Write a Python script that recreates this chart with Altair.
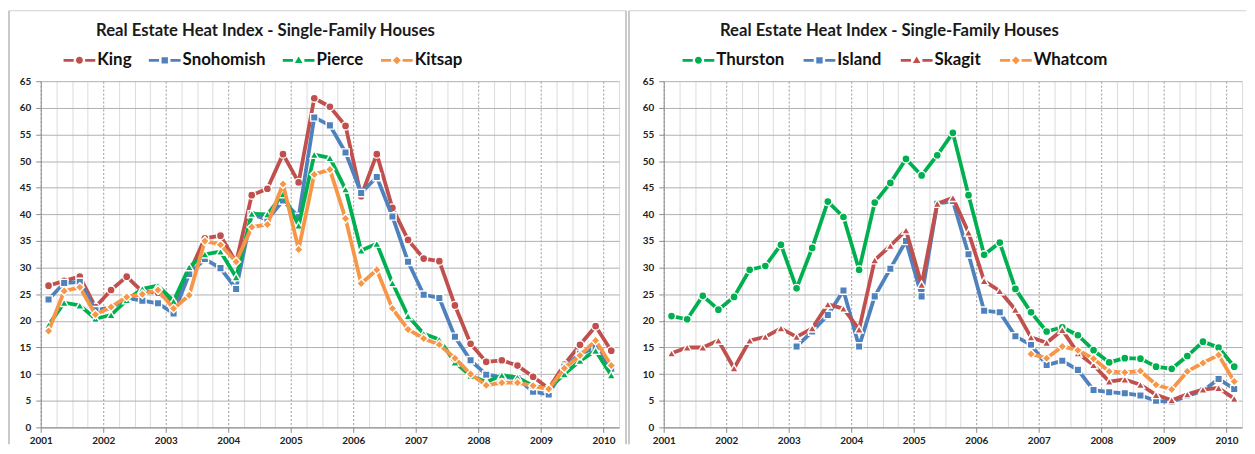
import altair as alt
import pandas as pd

# ---------------- data ----------------
quarters = [f"{y}Q{q}" for y in range(2001, 2011) for q in range(1, 5)][:37]
y_ticks = list(range(0, 70, 5))

left_names = ["King", "Snohomish", "Pierce", "Kitsap"]
right_names = ["Thurston", "Island", "Skagit", "Whatcom"]

king = [26.6, 27.5, 28.3, 22.6, 25.8, 28.3, 25.5, 25.3, 23.2, 29.0, 35.5, 36.0, 31.0,
        43.6, 44.8, 51.3, 46.0, 61.8, 60.2, 56.6, 43.4, 51.3, 41.2, 35.2, 31.7, 31.2,
        22.9, 15.7, 12.3, 12.6, 11.6, 9.5, 7.3, 11.8, 15.5, 19.0, 14.4]
snohomish = [24.0, 27.1, 27.3, 22.0, 22.5, 24.3, 23.8, 23.3, 21.4, 28.8, 31.6, 29.9, 26.0,
             40.0, 39.0, 42.6, 39.5, 58.2, 56.7, 51.6, 44.0, 47.0, 39.6, 31.1, 24.9, 24.3,
             17.0, 12.6, 9.9, 9.5, 9.2, 6.7, 6.2, 11.4, 13.8, 15.0, 11.0]
pierce = [19.2, 23.4, 22.9, 20.4, 21.1, 23.9, 26.0, 26.6, 23.7, 30.1, 32.5, 33.0, 28.2,
          40.1, 40.0, 43.8, 37.9, 51.2, 50.6, 44.7, 33.2, 34.5, 27.1, 20.9, 17.6, 16.5,
          12.2, 9.7, 8.5, 9.8, 9.4, 7.8, 7.3, 10.0, 12.5, 14.4, 9.8]
kitsap = [18.1, 25.6, 26.3, 21.2, 22.6, 24.5, 25.0, 25.8, 22.3, 24.8, 35.0, 34.3, 31.1,
          37.6, 38.1, 45.7, 33.4, 47.5, 48.4, 39.2, 27.0, 29.6, 22.3, 18.4, 16.7, 15.5,
          13.0, 10.0, 7.9, 8.4, 8.4, 7.8, 7.2, 11.1, 13.5, 16.3, 11.6]

thurston = [20.9, 20.3, 24.7, 22.1, 24.5, 29.6, 30.3, 34.3, 26.1, 33.7, 42.4, 39.5, 29.6,
            42.2, 45.9, 50.4, 47.3, 51.1, 55.3, 43.6, 32.4, 34.7, 26.0, 21.6, 18.0, 18.8,
            17.3, 14.5, 12.2, 13.0, 12.9, 11.4, 11.0, 13.4, 16.1, 15.0, 11.4]
island = [None] * 8 + [15.2, 18.0, 21.1, 25.7, 15.2, 24.6, 29.8, 35.0, 24.6, 42.0,
                       42.5, 32.5, 21.9, 21.6, 17.1, 15.5, 11.7, 12.5, 10.8, 7.0,
                       6.6, 6.4, 6.0, 5.0, 4.8, 5.9, 6.9, 9.1, 7.2]
skagit = [13.9, 15.0, 15.0, 16.3, 11.1, 16.3, 17.0, 18.6, 17.0, 18.6, 23.1, 22.3, 18.4,
          31.4, 34.1, 37.0, 26.8, 42.0, 43.1, 36.6, 27.5, 25.6, 22.1, 16.9, 15.9, 18.3,
          13.9, 11.7, 8.6, 9.0, 8.0, 6.1, 5.1, 6.2, 7.1, 7.4, 5.4]
whatcom = [None] * 23 + [13.8, 13.0, 15.2, 14.5, 12.9, 10.5, 10.3, 10.6, 8.0, 7.1,
                         10.5, 12.1, 13.6, 8.6]

RED, BLUE, GREEN, ORANGE = "#C0504D", "#4F81BD", "#00B050", "#F79646"
title_text = "Real Estate Heat Index - Single-Family Houses"
FONT = "Lato"
FRAME = "#A6A6A6"

# legend symbols: line - marker - line (unit square -1..1)
stubs = "M-1,-0.09H-0.36V0.09H-1Z M0.36,-0.09H1V0.09H0.36Z "
legend_paths = {
    "circle": stubs + "M-0.22,0A0.22,0.22 0 1,0 0.22,0A0.22,0.22 0 1,0 -0.22,0Z",
    "square": stubs + "M-0.2,-0.2H0.2V0.2H-0.2Z",
    "triangle-up": stubs + "M0,-0.25L0.24,0.17H-0.24Z",
    "diamond": stubs + "M0,-0.25L0.25,0L0,0.25L-0.25,0Z",
}
marker_size = {"circle": 66, "square": 56, "triangle-up": 74, "diamond": 82}

is_year = "abs(datum.value - round(datum.value)) < 0.001"
x_axis = alt.Axis(
    values=[2001 + 0.25 * k for k in range(38)],
    labelExpr=f"{is_year} ? format(datum.value, 'd') : ''",
    title=None,
    grid=True,
    gridColor={"condition": {"test": is_year, "value": "#9A9A9A"}, "value": "#DCDCDC"},
    gridDash={"condition": {"test": is_year, "value": [2, 2]}, "value": []},
    gridWidth=1,
    tickColor={"condition": {"test": is_year, "value": "#8C8C8C"}, "value": "transparent"},
    tickSize=5,
    domainColor="#8C8C8C",
    labelFont=FONT, labelFontSize=10, labelFontWeight="bold", labelColor="#222222",
    labelPadding=3, labelOverlap=False, labelFlush=False,
)
y_axis = alt.Axis(
    values=y_ticks, title=None, grid=True, gridColor="#B0B0B0", gridWidth=1,
    tickColor="#8C8C8C", tickSize=5, domainColor="#8C8C8C",
    labelFont=FONT, labelFontSize=10, labelFontWeight="bold", labelColor="#222222",
    labelPadding=5, minExtent=32, maxExtent=32,
)

one_row = pd.DataFrame({"k": [0]})


def frame_rules(left_x, right_x):
    """Chart-area border lines (decoration, in pixels relative to the plot)."""
    fr = alt.Chart(one_row)
    parts = [
        fr.mark_rule(color=FRAME, strokeWidth=1.2).encode(
            x=alt.value(left_x), y=alt.value(-71), y2=alt.value(366)),
        fr.mark_rule(color="#D0D0D0", strokeWidth=1).encode(
            x=alt.value(left_x), x2=alt.value(right_x if right_x is not None else 587),
            y=alt.value(-71)),
    ]
    if right_x is not None:
        parts.append(fr.mark_rule(color=FRAME, strokeWidth=1.2).encode(
            x=alt.value(right_x), y=alt.value(-71), y2=alt.value(366)))
    return parts


def panel(names, series, colors, shapes, legend_x, col_pad, title_dx, frame_l, frame_r):
    rows = []
    for n, vals in zip(names, series):
        for q, v in zip(quarters, vals):
            if v is None:
                continue
            yr, qq = int(q[:4]), int(q[-1])
            rows.append({"t": yr + (qq - 1) / 4 + 0.125, "v": v, "s": n})
    df = pd.DataFrame(rows)
    xenc = alt.X("t:Q", scale=alt.Scale(domain=[2001, 2010.25], nice=False, zero=False), axis=x_axis)
    yenc = alt.Y("v:Q", scale=alt.Scale(domain=[0, 65], nice=False), axis=y_axis)
    cscale = alt.Scale(domain=names, range=colors)
    base = alt.Chart(df)
    leg = dict(orient="none", legendX=legend_x, legendY=-37, direction="horizontal", title=None,
               labelFont=FONT, labelFontSize=17, labelFontWeight="bold", labelColor="#111111",
               symbolSize=1024, labelOffset=2, columnPadding=col_pad, symbolStrokeWidth=0,
               padding=0, symbolOpacity=1)
    # invisible (size 0) layer that only carries the legend
    layers = [base.mark_point(filled=True, opacity=1, size=0, strokeWidth=0).encode(
        x=xenc, y=yenc,
        color=alt.Color("s:N", scale=cscale, legend=alt.Legend(**leg)),
        shape=alt.Shape("s:N", scale=alt.Scale(domain=names, range=[legend_paths[s] for s in shapes]),
                        legend=alt.Legend(**leg)),
    )]
    for n, shp in zip(names, shapes):
        f = alt.datum.s == n
        col = alt.Color("s:N", scale=cscale, legend=None)
        layers.append(base.mark_line(strokeWidth=3.8, strokeJoin="round").encode(
            x=xenc, y=yenc, color=col).transform_filter(f))
        layers.append(base.mark_point(shape=shp, filled=True, size=marker_size[shp], stroke="white",
                                      strokeWidth=1.4, opacity=1).encode(
            x=xenc, y=yenc, color=col).transform_filter(f))
    layers += frame_rules(frame_l, frame_r)
    return alt.layer(*layers).properties(
        width=583, height=349,
        title=alt.TitleParams(title_text, font=FONT, fontSize=16.8, fontWeight="bold", color="#1A1A1A",
                              anchor="middle", frame="group", dx=title_dx, offset=-43,
                              baseline="alphabetic"),
    )


left = panel(left_names, [king, snohomish, pierce, kitsap], [RED, BLUE, GREEN, ORANGE],
             ["circle", "square", "triangle-up", "diamond"], 23, 17, -65, -32, 590)
right = panel(right_names, [thurston, island, skagit, whatcom], [GREEN, BLUE, RED, ORANGE],
              ["circle", "square", "triangle-up", "diamond"], 19, 19, -64, -35, None)

chart = alt.hconcat(left, right, spacing=45, bounds="flush").resolve_scale(
    color="independent", shape="independent", x="independent", y="independent"
).properties(
    padding={"left": 0, "top": 0, "right": 0, "bottom": 0}
).configure_view(stroke=None)

chart.save("out.html", embed_options={"renderer": "svg", "actions": False})
